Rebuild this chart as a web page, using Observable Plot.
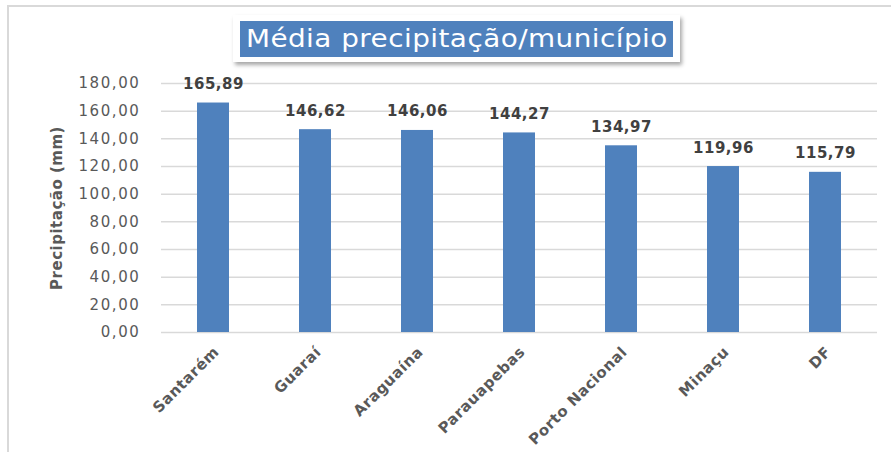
<!DOCTYPE html>
<html>
<head>
<meta charset="utf-8">
<script src="https://cdn.jsdelivr.net/npm/d3@7"></script>
<script src="https://cdn.jsdelivr.net/npm/@observablehq/plot@0.6"></script>
<style>
  html, body { margin: 0; padding: 0; background: #fff; }
  #wrap { position: relative; width: 891px; height: 452px; overflow: hidden; }
  #frame { position: absolute; left: 7px; top: 5px; width: 900px; height: 460px;
           border-top: 2px solid #d9d9d9; border-left: 2px solid #d9d9d9; }
  #titlebox { position: absolute; left: 233px; top: 15px; width: 447px; height: 47px;
              background: #fff; box-shadow: 2px 3px 4px rgba(0,0,0,0.35); }
  #title { position: absolute; left: 7px; top: 6px; width: 433px; height: 36px;
           background: #4f81bd; color: #fff; font-family: "DejaVu Sans", sans-serif;
           font-size: 24px; line-height: 36px; text-align: center; white-space: nowrap; }
  #title span { display: inline-block; transform: scaleX(1.16); letter-spacing: 0.4px; }
  svg text { letter-spacing: 0.5px; }
  svg g.yticks text { letter-spacing: 1.6px; }
  svg g.xticks text { letter-spacing: 0.5px; }
</style>
</head>
<body>
<div id="wrap">
  <div id="frame"></div>
  <div id="chart"></div>
  <div id="titlebox"><div id="title"><span>Média precipitação/município</span></div></div>
</div>
<script>
const cities = ["Santarém", "Guaraí", "Araguaína", "Parauapebas", "Porto Nacional", "Minaçu", "DF"];
const values = [165.89, 146.62, 146.06, 144.27, 134.97, 119.96, 115.79];
const yTicks = [0, 20, 40, 60, 80, 100, 120, 140, 160, 180];
const yLabel = "Precipitação (mm)";

const data = cities.map((c, i) => ({city: c, value: values[i]}));
const fmt = v => v.toFixed(2).replace(".", ",");

const chart = Plot.plot({
  width: 891,
  height: 452,
  marginLeft: 161,
  marginRight: 14,
  marginTop: 83,
  marginBottom: 120,
  style: {fontFamily: "DejaVu Sans, sans-serif", background: "transparent", overflow: "visible"},
  x: {domain: cities, paddingInner: 0.69, paddingOuter: 0.345, label: null},
  y: {domain: [0, 180], label: null},
  marks: [
    Plot.gridY(yTicks, {stroke: "#d9d9d9", strokeOpacity: 1, strokeWidth: 1.5}),
    Plot.barY(data, {x: "city", y: "value", fill: "#4f81bd"}),
    Plot.text(data, {x: "city", y: "value", text: d => fmt(d.value), dy: -14, lineAnchor: "bottom",
      fontWeight: "bold", fontSize: 15, fill: "#404040"}),
    Plot.axisY(yTicks, {tickSize: 0, tickPadding: 21, tickFormat: fmt, fontSize: 15, fill: "#595959",
      label: null, className: "yticks"}),
    Plot.axisX({tickSize: 0, tickRotate: -45, tickPadding: 17, dx: 3, fontSize: 15, fontWeight: "bold",
      fill: "#595959", label: null, className: "xticks"}),
    Plot.text([yLabel], {frameAnchor: "left", textAnchor: "middle", dx: -104, rotate: -90,
      fontSize: 15, fontWeight: "bold", fill: "#595959"})
  ]
});
document.getElementById("chart").appendChild(chart);
</script>
</body>
</html>
